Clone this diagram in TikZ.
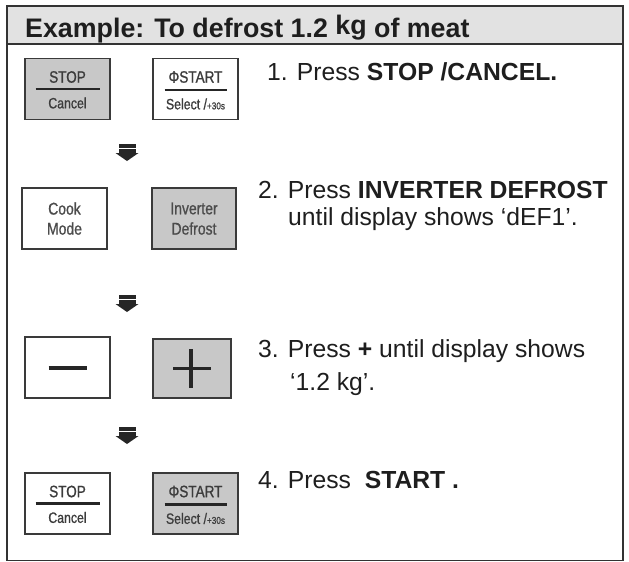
\documentclass[tikz,border=0pt]{standalone}
\usepackage{fontspec}
\setmainfont{Liberation Sans}
\newfontfamily\btnfont[FakeStretch=0.82,FakeBold=0.9]{Liberation Sans}
\usetikzlibrary{calc}
\definecolor{framec}{HTML}{333333}
\definecolor{headc}{HTML}{E2E2E2}
\definecolor{btngray}{HTML}{C8C8C8}
\definecolor{btnedge}{HTML}{3A3A3A}
\definecolor{btntext}{HTML}{3C3C3C}
\definecolor{txtc}{HTML}{1E1E1E}
\tikzset{
  btn/.style={draw=btnedge, line width=1.2pt, minimum width=85pt, minimum height=61pt, inner sep=0pt},
  btngr/.style={btn, fill=btngray},
  btnlbl/.style={font=\btnfont\fontsize{16.5}{16}\selectfont, text=btntext, inner sep=0pt},
  btnsub/.style={font=\btnfont\fontsize{15}{15}\selectfont, text=btntext, inner sep=0pt},
  btnword/.style={font=\btnfont\fontsize{17}{17}\selectfont, text=black!70, inner sep=0pt},
  steptxt/.style={font=\fontsize{24.7}{28}\selectfont, anchor=base west, inner sep=0pt, text=txtc},
  sepline/.style={line width=2.3pt, draw=black!85},
  signline/.style={line width=3.6pt, draw=black!85},
  darrow/.pic={
    \fill[black!85] (-8.5,0) rectangle (8.5,3.5);
    \fill[black!85] (-8.5,5) rectangle (8.5,9);
    \fill[black!85] (-11.5,9) -- (11.5,9) -- (0,17) -- cycle;
  },
}
\begin{document}
\begin{tikzpicture}[x=1pt,y=-1pt]
\useasboundingbox (0,0) rectangle (629,562);
\fill[white] (0,0) rectangle (629,562);
% header and frame
\fill[headc] (7,6) rectangle (623,44);
\draw[framec, line width=1.4pt] (7,44) -- (623,44);
\draw[framec, line width=1.5pt] (7,6) rectangle (623,560.5);
\node[anchor=base west, inner sep=0pt, text=txtc, font=\bfseries\fontsize{26.8}{30}\selectfont] (title) at (25,37)
  {Example: To defrost 1.2 \raisebox{2pt}{kg} of meat};

% step 1 buttons
\node[btngr] (stop1) at (67.5,89) {};
\node[btnlbl] (stop1t) at ($(stop1.center)+(0,-12)$) {STOP};
\node[btnsub] (stop1b) at ($(stop1.center)+(0,14)$) {Cancel};
\draw[sepline] ($(stop1.center)+(-32,0)$) -- ($(stop1.center)+(32,0)$);
\node[btn] (start1) at (195.5,89) {};
\node[btnlbl] (start1t) at ($(start1.center)+(0,-12)$) {ΦSTART};
\node[btnsub] (start1b) at ($(start1.center)+(0,15)$) {Select /{\fontsize{10}{10}\selectfont +30s}};
\draw[sepline] ($(start1.center)+(-31,1)$) -- ($(start1.center)+(31,1)$);

\pic at (127,144) {darrow};

% step 2 buttons
\node[btn] (cook) at (64.5,218.5) {};
\node[btnword] (cookt) at ($(cook.center)+(0,-10)$) {Cook};
\node[btnword] (cookb) at ($(cook.center)+(0,10)$) {Mode};
\node[btngr, minimum width=84pt] (inv) at (194,218.5) {};
\node[btnword] (invt) at ($(inv.center)+(0,-10)$) {Inverter};
\node[btnword] (invb) at ($(inv.center)+(0,10)$) {Defrost};

\pic at (127,295) {darrow};

% step 3 buttons
\node[btn] (minus) at (67.5,367.5) {};
\draw[signline] ($(minus.center)+(-19,0.5)$) -- ($(minus.center)+(19,0.5)$);
\node[btngr, minimum width=78pt, minimum height=59pt] (plus) at (192,368.5) {};
\draw[signline] ($(plus.center)+(-19,0)$) -- ($(plus.center)+(19,0)$);
\draw[signline] ($(plus.center)+(-1,-19.5)$) -- ($(plus.center)+(-1,19)$);

\pic at (127,427) {darrow};

% step 4 buttons
\node[btn] (stop2) at (67.5,503.5) {};
\node[btnlbl] (stop2t) at ($(stop2.center)+(0,-12)$) {STOP};
\node[btnsub] (stop2b) at ($(stop2.center)+(0,14)$) {Cancel};
\draw[sepline] ($(stop2.center)+(-32,0)$) -- ($(stop2.center)+(32,0)$);
\node[btngr] (start2) at (195.5,503.5) {};
\node[btnlbl] (start2t) at ($(start2.center)+(0,-12)$) {ΦSTART};
\node[btnsub] (start2b) at ($(start2.center)+(0,15)$) {Select /{\fontsize{10}{10}\selectfont +30s}};
\draw[sepline] ($(start2.center)+(-31,1)$) -- ($(start2.center)+(31,1)$);

% step texts
\node[steptxt] (s1) at (267,80) {1. Press \textbf{STOP /CANCEL.}};
\node[steptxt] (s2a) at (258,198) {2. Press \textbf{INVERTER DEFROST}};
\node[steptxt] (s2b) at (288,225) {until display shows ‘dEF1’.};
\node[steptxt] (s3a) at (258,357) {3. Press \textbf{+} until display shows};
\node[steptxt] (s3b) at (290,390) {‘1.2 kg’.};
\node[steptxt] (s4) at (258,488) {4. Press\ \ \textbf{START .}};
\end{tikzpicture}
\end{document}
